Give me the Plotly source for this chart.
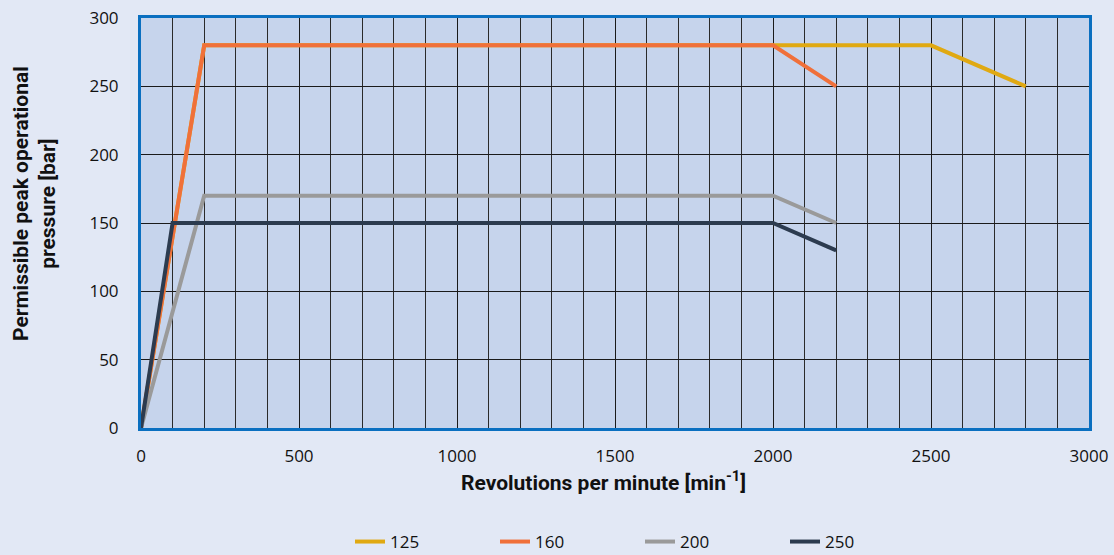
import plotly.graph_objects as go

# Data
series_names = ["125", "160", "200", "250"]
rpm_125 = [0, 200, 2000, 2500, 2800]
bar_125 = [0, 280, 280, 280, 250]
rpm_160 = [0, 200, 2000, 2200]
bar_160 = [0, 280, 280, 250]
rpm_200 = [0, 200, 2000, 2200]
bar_200 = [0, 170, 170, 150]
rpm_250 = [0, 100, 2000, 2200]
bar_250 = [0, 150, 150, 130]
colors = ["#e0a912", "#f0703a", "#9a9a9a", "#2c3b4f"]

x_title = "<b>Revolutions per minute [min<sup>-1</sup>]</b>"
y_title = "<b>Permissible peak operational<br>pressure [bar]</b>"

fig = go.Figure()
for name, xs, ys, c in zip(series_names,
                           [rpm_125, rpm_160, rpm_200, rpm_250],
                           [bar_125, bar_160, bar_200, bar_250],
                           colors):
    fig.add_trace(go.Scatter(x=xs, y=ys, mode="lines", name=name,
                             line=dict(color=c, width=4)))

tick_font = "Open Sans, Noto Sans, sans-serif"
title_font = "Roboto, Inter, sans-serif"
L, R, T, B = 141, 25, 18, 127
W, H = 1114, 555
pw, ph = W - L - R, H - T - B
BG = "#e2e8f5"

def px_x(p):
    return (p - L) / pw

def px_y(p):
    return (H - B - p) / ph

fig.update_layout(
    width=W, height=H,
    margin=dict(l=L, r=R, t=T, b=B, autoexpand=False),
    paper_bgcolor=BG,
    plot_bgcolor="#c6d4ec",
    font=dict(family=tick_font, size=17, color="#111111"),
    showlegend=True,
    legend=dict(orientation="h", x=px_x(350), xanchor="left", y=px_y(542), yanchor="middle",
                entrywidth=100, entrywidthmode="pixels",
                font=dict(size=17, color="#111111"), bgcolor="rgba(0,0,0,0)",
                traceorder="normal"),
    xaxis=dict(range=[0, 3000], tick0=0, dtick=500, showgrid=True,
               gridcolor="#1a1a1a", gridwidth=1, automargin=False,
               minor=dict(dtick=100, showgrid=True, gridcolor="#2a2a2a", gridwidth=1),
               zeroline=False, showline=True, linecolor="#0a6fc0", linewidth=3, mirror=True,
               ticks="", ticklabelstandoff=11),
    yaxis=dict(range=[0, 300], tick0=0, dtick=50, showgrid=True,
               gridcolor="#1a1a1a", gridwidth=1, automargin=False,
               zeroline=False, showline=True, linecolor="#0a6fc0", linewidth=3, mirror=True,
               ticks="", ticklabelstandoff=16),
    annotations=[
        dict(text=x_title, xref="paper", yref="paper", x=px_x(603), y=px_y(481),
             xanchor="center", yanchor="middle", showarrow=False,
             font=dict(family=title_font, size=21, color="#111111")),
        dict(text=y_title, xref="paper", yref="paper", x=px_x(35), y=px_y(204),
             xanchor="center", yanchor="middle", showarrow=False, textangle=-90,
             font=dict(family=title_font, size=21, color="#111111")),
    ],
)

fig.write_html(
    "out.html",
    config={"displayModeBar": False, "staticPlot": True},
    post_script=f"document.body.style.margin='0';document.body.style.background='{BG}';",
)
